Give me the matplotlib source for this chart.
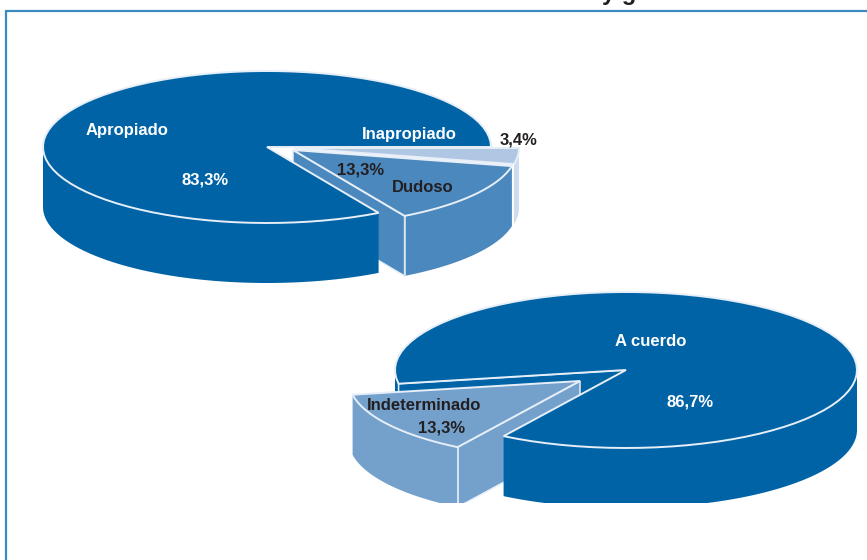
import numpy as np
import matplotlib
matplotlib.use('Agg')
import matplotlib.pyplot as plt
from matplotlib.patches import Polygon, Rectangle

plt.rcParams['font.family'] = ['Liberation Sans', 'DejaVu Sans']

# datos de los dos graficos
labels_1 = ['Apropiado', 'Dudoso', 'Inapropiado']
values_1 = [83.3, 13.3, 3.4]
labels_2 = ['Acuerdo', 'Indeterminado']
values_2 = [86.7, 13.3]

BLUE = '#0063a6'
MID = '#4a88be'
PALE = '#74a0cc'
LIGHT = '#b0c7e3'
LIGHT_SIDE = '#cddcee'
RIM = '#e6eef7'
DARK = '#231f20'

DEPTH = 60


def arc(cx, cy, rx, ry, a0, a1):
    t = np.radians(np.linspace(a0, a1, 80))
    return np.column_stack([cx + rx * np.cos(t), cy - ry * np.sin(t)])


def side(ax, cx, cy, rx, ry, a0, a1, color, z=2):
    # cara exterior de la porcion, solo la mitad de abajo se ve
    top_edge = arc(cx, cy, rx, ry, a0, a1)
    low = top_edge + [0, DEPTH]
    ax.add_patch(Polygon(np.vstack([top_edge, low[::-1]]), fc=color, ec='none', zorder=z))


def cut_face(ax, cx, cy, rx, ry, a, color, z=2):
    # cara del corte, desde el centro hasta el borde
    edge = arc(cx, cy, rx, ry, a, a)[0]
    pts = [(cx, cy), edge, edge + [0, DEPTH], (cx, cy + DEPTH)]
    ax.add_patch(Polygon(pts, fc=color, ec=RIM, lw=1.1, zorder=z))


def top(ax, cx, cy, rx, ry, a0, a1, color, z=4):
    pts = np.vstack([[cx, cy], arc(cx, cy, rx, ry, a0, a1)])
    ax.add_patch(Polygon(pts, closed=True, fc=color, ec=RIM, lw=1.4, zorder=z, joinstyle='miter'))


fig = plt.figure(figsize=(8.67, 5.6), dpi=100)
ax = fig.add_axes([0, 0, 1, 1])
ax.set_xlim(0, 867)
ax.set_ylim(560, 0)
ax.axis('off')

# marco azul
ax.plot([6, 6, 867], [560, 11, 11], color='#3a8cc0', lw=1.6, zorder=1, solid_joinstyle='miter')

# ----- grafico de arriba
rx1, ry1 = 224, 76
sweep = np.array(values_1) * 3.6
a_main = sweep[0]
a_mid = a_main + sweep[1]

# porciones separadas
cut_face(ax, 293, 150, rx1, ry1, a_main, MID)
side(ax, 295, 148, rx1, ry1, a_mid, 360, LIGHT_SIDE)
side(ax, 293, 150, rx1, ry1, a_main, a_mid, MID)
edge = arc(293, 150, rx1, ry1, a_main, a_main)[0]
ax.plot([edge[0], edge[0]], [edge[1], edge[1] + DEPTH - 1], color=RIM, lw=1.1, zorder=3)

# porcion grande
side(ax, 267, 147, rx1, ry1, 180, a_main, BLUE, z=3)
top(ax, 267, 147, rx1, ry1, 0, a_main, BLUE)
top(ax, 295, 148, rx1, ry1, a_mid, 360, LIGHT, z=5)
top(ax, 293, 150, rx1, ry1, a_main, a_mid, MID, z=6)

# ----- grafico de abajo, cortado abajo como la imagen original
rx2, ry2 = 231, 78
start = 238
a_end = start + values_2[0] * 3.6 - 360

# lo que queda detras de la porcion separada
side(ax, 626, 370, rx2, ry2, 180, a_end, BLUE, z=1.5)
cut_face(ax, 626, 370, rx2, ry2, a_end, BLUE, z=1.6)

cut_face(ax, 580, 381, rx2, ry2, start, PALE)
side(ax, 580, 381, rx2, ry2, a_end, start, PALE)
edge = arc(580, 381, rx2, ry2, start, start)[0]
ax.plot([edge[0], edge[0]], [edge[1], edge[1] + DEPTH], color=RIM, lw=1.1, zorder=3)

side(ax, 626, 370, rx2, ry2, start, 360, BLUE, z=3)
top(ax, 626, 370, rx2, ry2, start, a_end + 360, BLUE)
top(ax, 580, 381, rx2, ry2, a_end, start, PALE, z=6)
ax.add_patch(Rectangle((340, 503), 527, 20, fc='white', ec='none', zorder=7))

# titulo cortado por arriba, solo se alcanza a leer el final
ax.text(820, 0, 'y grado de acuerdo', ha='right', va='baseline', fontsize=17,
        fontweight='bold', color=DARK, zorder=8)

# textos
fs = 12
txt = [
    (127, 131, 'Apropiado', 'white'),
    (205, 180, '83,3%', 'white'),
    (409, 135, 'Inapropiado', 'white'),
    (519, 140, '3,4%', DARK),
    (361, 170, '13,3%', DARK),
    (423, 187, 'Dudoso', DARK),
    (651, 341, 'A cuerdo', 'white'),
    (690, 402, '86,7%', 'white'),
    (424, 405, 'Indeterminado', DARK),
    (442, 428, '13,3%', DARK),
]
for x, y, s, c in txt:
    ax.text(x, y, s, ha='center', va='center', fontsize=fs, fontweight='bold', color=c, zorder=9)

fig.savefig('out.png', dpi=100)
